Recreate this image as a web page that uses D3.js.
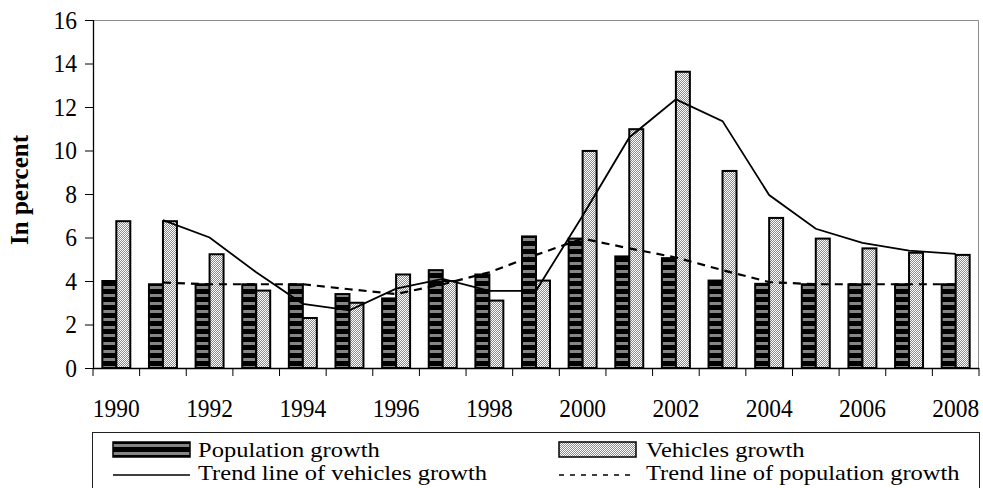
<!DOCTYPE html>
<html>
<head>
<meta charset="utf-8">
<script src="https://cdn.jsdelivr.net/npm/d3@7/dist/d3.min.js"></script>
<style>
  body { margin: 0; background: #fff; }
  svg text { font-family: "Liberation Serif", "Times New Roman", serif; fill: #000; }
</style>
</head>
<body>
<svg id="chart" width="983" height="488"></svg>
<script>
// values
const years = d3.range(1990, 2009).map(String);
const populationGrowth = [4.0, 3.85, 3.85, 3.85, 3.85, 3.4, 3.2, 4.5, 4.3, 6.05,
  5.95, 5.13, 5.05, 4.02, 3.87, 3.85, 3.85, 3.85, 3.85];
const vehiclesGrowth = [6.75, 6.75, 5.23, 3.56, 2.3, 3.0, 4.3, 4.0, 3.1, 4.02,
  9.98, 10.98, 13.62, 9.06, 6.9, 5.95, 5.5, 5.3, 5.2];
const trendYears = years.slice(1);
const vehiclesTrend = [6.8, 6.0, 4.4, 2.95, 2.65, 3.65, 4.1, 3.55, 3.55,
  7.0, 10.6, 12.35, 11.35, 7.95, 6.4, 5.75, 5.4, 5.25];
const populationTrend = [3.93, 3.85, 3.85, 3.85, 3.62, 3.4, 3.85, 4.4, 5.2,
  5.95, 5.5, 5.08, 4.5, 3.95, 3.85, 3.85, 3.85, 3.85];
const yTicks = d3.range(0, 17, 2);

const svg = d3.select('#chart');
const margin = { left: 93, right: 4, top: 20, bottom: 120 };
const width = 983 - margin.left - margin.right;
const height = 488 - margin.top - margin.bottom;

// the source font has other proportions than Liberation Serif
function squeeze(sel, k) {
  sel.each(function () {
    const len = this.getComputedTextLength();
    d3.select(this).attr('textLength', len * k).attr('lengthAdjust', 'spacingAndGlyphs');
  });
}

const defs = svg.append('defs');
const stripes = defs.append('pattern')
  .attr('id', 'stripes')
  .attr('patternUnits', 'userSpaceOnUse')
  .attr('width', 8).attr('height', 8)
  .attr('y', margin.top + height);
stripes.append('rect').attr('width', 8).attr('height', 8).attr('fill', '#000');
stripes.append('rect').attr('y', 2).attr('width', 8).attr('height', 3).attr('fill', '#858585');

const checks = defs.append('pattern')
  .attr('id', 'checks')
  .attr('patternUnits', 'userSpaceOnUse')
  .attr('width', 2).attr('height', 2);
checks.append('rect').attr('width', 2).attr('height', 2).attr('fill', '#fff');
checks.append('rect').attr('width', 1).attr('height', 1).attr('fill', '#8a8a8a');
checks.append('rect').attr('x', 1).attr('y', 1).attr('width', 1).attr('height', 1).attr('fill', '#8a8a8a');

const g = svg.append('g')
  .attr('transform', `translate(${margin.left},${margin.top})`);

const x = d3.scaleBand().domain(years).range([0, width]).paddingInner(0.4).paddingOuter(0.2);
const xCat = d3.scaleBand().domain(years).range([0, width]);
const y = d3.scaleLinear().domain([0, 16]).range([height, 0]);
const half = x.bandwidth() / 2;

// frame
g.append('path')
  .attr('d', `M0.5,0.5H${width - 0.5}V${height}`)
  .attr('fill', 'none')
  .attr('stroke', '#8c8c8c');

// bars
g.selectAll('.pop').data(years).join('rect')
  .attr('class', 'pop')
  .attr('x', d => x(d))
  .attr('y', (d, i) => y(populationGrowth[i]))
  .attr('width', half)
  .attr('height', (d, i) => height - y(populationGrowth[i]))
  .attr('fill', 'url(#stripes)')
  .attr('stroke', '#000')
  .attr('stroke-width', 2);

g.selectAll('.veh').data(years).join('rect')
  .attr('class', 'veh')
  .attr('x', d => x(d) + half)
  .attr('y', (d, i) => y(vehiclesGrowth[i]))
  .attr('width', half)
  .attr('height', (d, i) => height - y(vehiclesGrowth[i]))
  .attr('fill', 'url(#checks)')
  .attr('stroke', '#000')
  .attr('stroke-width', 2);

// trend lines
const line = d3.line()
  .x(d => xCat(d[0]) + xCat.bandwidth() / 2)
  .y(d => y(d[1]));

g.append('path')
  .datum(d3.zip(trendYears, vehiclesTrend))
  .attr('d', line)
  .attr('fill', 'none')
  .attr('stroke', '#000')
  .attr('stroke-width', 1.8);

g.append('path')
  .datum(d3.zip(trendYears, populationTrend))
  .attr('d', line)
  .attr('fill', 'none')
  .attr('stroke', '#000')
  .attr('stroke-width', 2.2)
  .attr('stroke-dasharray', '8,6');

// axes
const yAxis = g.append('g')
  .call(d3.axisLeft(y).tickValues(yTicks).tickSize(8).tickPadding(8));
const xAxis = g.append('g')
  .attr('transform', `translate(0,${height})`)
  .call(d3.axisBottom(xCat).tickSize(0).tickPadding(31)
    .tickFormat((d, i) => (i % 2 === 0 ? d : '')));

// category boundary ticks
xAxis.selectAll('.bound').data(years.concat(['end'])).join('line')
  .attr('class', 'bound')
  .attr('x1', (d, i) => i * xCat.step())
  .attr('x2', (d, i) => i * xCat.step())
  .attr('y1', 0).attr('y2', 8)
  .attr('stroke', '#000');

[yAxis, xAxis].forEach(a => {
  a.attr('font-family', null).attr('font-size', null);
  a.select('.domain').attr('stroke', '#000').attr('stroke-width', 1.3);
  a.selectAll('text').style('font-size', '25.5px').call(squeeze, 0.92);
});
xAxis.select('.domain').attr('d', `M0,0.5H${width}`);
yAxis.select('.domain').attr('d', `M0.5,0V${height}`);

svg.append('text')
  .attr('transform', 'translate(28,190) rotate(-90)')
  .attr('text-anchor', 'middle')
  .style('font-size', '25px')
  .style('font-weight', 'bold')
  .text('In percent');

// legend
const legend = svg.append('g').attr('transform', 'translate(92,432)');
legend.append('rect')
  .attr('x', 0.5).attr('y', 0.5)
  .attr('width', 887).attr('height', 80)
  .attr('fill', 'none')
  .attr('stroke', '#222');

const entries = [
  { label: 'Population growth', kind: 'bar', fill: 'url(#stripes)', col: 0, row: 0 },
  { label: 'Vehicles growth', kind: 'bar', fill: 'url(#checks)', col: 1, row: 0 },
  { label: 'Trend line of vehicles growth', kind: 'line', dash: null, col: 0, row: 1 },
  { label: 'Trend line of population growth', kind: 'line', dash: '5,6', col: 1, row: 1 }
];
const colX = [21, 467];
const rowY = [18, 41];

const item = legend.selectAll('.item').data(entries).join('g')
  .attr('class', 'item')
  .attr('transform', d => `translate(${colX[d.col]},${rowY[d.row]})`);

item.filter(d => d.kind === 'bar').append('rect')
  .attr('x', 0).attr('y', -8)
  .attr('width', 77).attr('height', 15)
  .attr('fill', d => d.fill)
  .attr('stroke', '#000')
  .attr('stroke-width', 1.5);

item.filter(d => d.kind === 'line').append('line')
  .attr('x1', 0).attr('x2', 77)
  .attr('y1', 2).attr('y2', 2)
  .attr('stroke', '#000')
  .attr('stroke-width', 1.5)
  .attr('stroke-dasharray', d => d.dash);

item.append('text')
  .attr('x', d => (d.col === 0 ? 85 : 87))
  .attr('y', 7)
  .style('font-size', '21.5px')
  .text(d => d.label)
  .call(squeeze, 1.14);
</script>
</body>
</html>
